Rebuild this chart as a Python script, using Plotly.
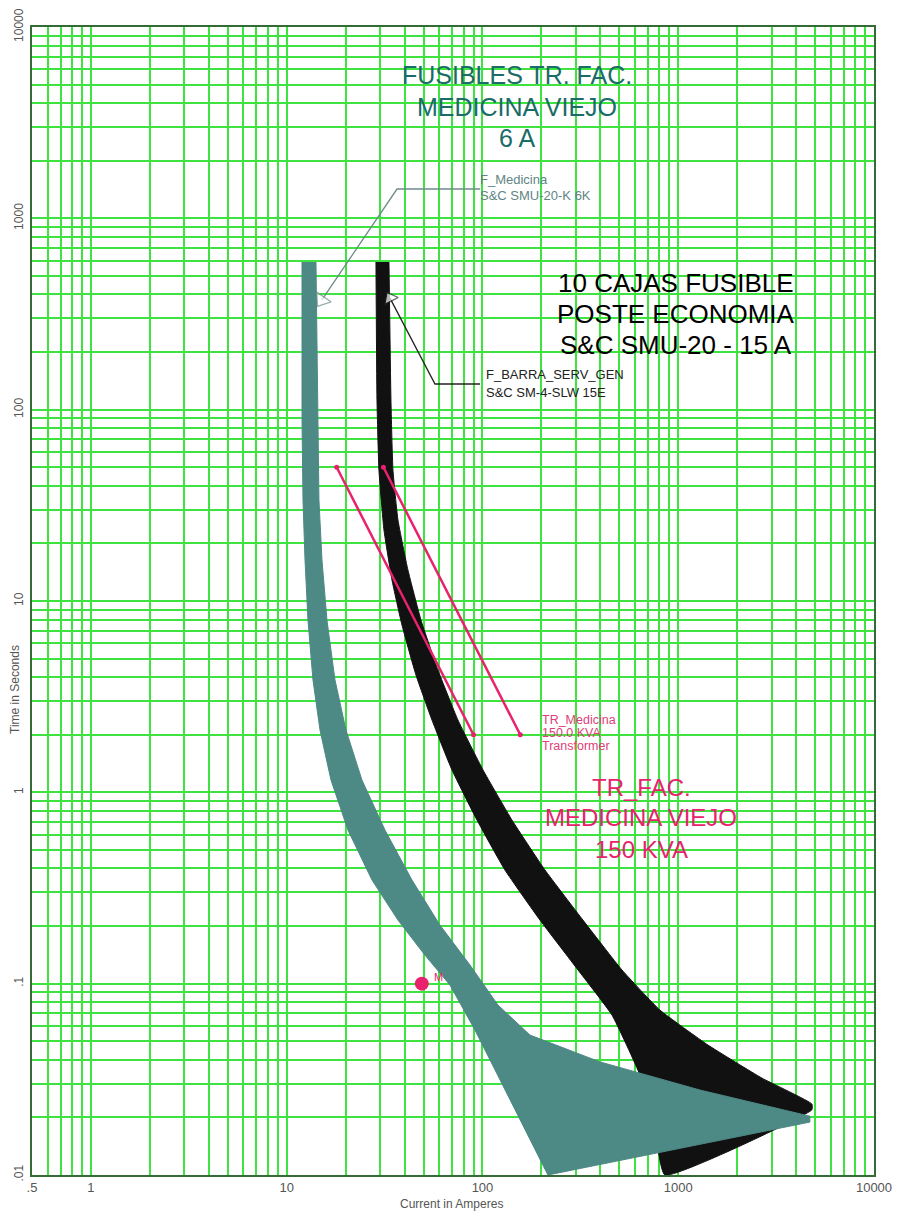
import numpy as np
import plotly.graph_objects as go

# ---------------- data (current in A, time in s) ----------------
# F_Medicina  S&C SMU-20-K 6K  (teal band)
teal_mm_I = [11.97, 11.97, 12.11, 12.40, 12.84, 13.62, 14.79, 16.83, 20.55, 27.26, 37.01, 50.8, 68.21, 91.5, 215.9]
teal_mm_t = [591, 88.3, 33.7, 16.4, 7.96, 3.87, 2.12, 1.16, 0.635, 0.348, 0.215, 0.141, 0.0984, 0.0573, 0.01]
teal_tc_I = [14.11, 14.44, 14.61, 15.14, 16.05, 17.64, 20.07, 24.23, 31.76, 43.63, 60.6, 86.3, 120, 174.7, 398, 1290, 4703]
teal_tc_t = [591, 88.3, 33.7, 16.4, 7.96, 3.87, 2.12, 1.16, 0.635, 0.348, 0.2025, 0.1252, 0.0773, 0.0539, 0.0390, 0.0278, 0.0203]
teal_tip_I = [4703]
teal_tip_t = [0.0189]

# F_BARRA_SERV_GEN  S&C SM-4-SLW 15E  (black band)
black_mm_I = [28.57, 28.91, 29.59, 31.39, 34.48, 38.79, 45.74, 55.19, 69.82, 93.70, 130.2, 196.6, 307.4, 458.5, 637.2, 760.1, 855]
black_mm_t = [591, 112.3, 48.4, 23.5, 12.9, 7.49, 4.10, 2.39, 1.31, 0.717, 0.393, 0.215, 0.118, 0.0686, 0.0333, 0.0172, 0.01]
black_tc_I = [33.29, 34.08, 34.89, 37.01, 41.62, 48.5, 59.22, 74.9, 100.6, 141.4, 208.4, 326, 515.6, 806, 1418, 2675, 4815]
black_tc_t = [591, 112.3, 48.4, 26.5, 14.5, 7.96, 4.36, 2.39, 1.31, 0.717, 0.393, 0.215, 0.118, 0.0728, 0.0478, 0.0321, 0.0235]
black_tip_I = [4815]
black_tip_t = [0.0219]

# TR_Medicina 150.0 KVA transformer damage curves
tr1_I = [18.0, 90.0]
tr2_I = [31.2, 156.0]
tr_t = [50.0, 2.0]

# Inrush point
inrush_I = [49.0]
inrush_t = [0.1]

# leader lines
lead_teal_I = [97.1, 36.6, 15.1]
lead_teal_t = [1423, 1423, 374]
lead_black_I = [97.1, 57.2, 33.7]
lead_black_t = [136.2, 136.2, 383]

# axis ticks
x_major = [0.5, 1, 10, 100, 1000, 10000]
x_major_text = [".5", "1", "10", "100", "1000", "10000"]
y_major = [0.01, 0.1, 1, 10, 100, 1000, 10000]
y_major_text = [".01", ".1", "1", "10", "100", "1000", "10000"]

# ---------------- colours ----------------
TEAL = "#4d8985"
TEAL_TXT = "#1b6b68"
PINK = "#e8226c"
GRID = "#3fe33f"

def grid_vals(lo_exp, hi_exp):
    vals = []
    for e in range(lo_exp, hi_exp + 1):
        for m in range(1, 10):
            vals.append(m * 10.0 ** e)
    return vals

xv = [v for v in grid_vals(-1, 4) if 0.5 <= v <= 10000 + 1e-9]
yv = [v for v in grid_vals(-2, 4) if 0.01 - 1e-12 <= v <= 10000 + 1e-9]

def lab(vals, majors, texts):
    out = []
    for v in vals:
        txt = ""
        for m, t in zip(majors, texts):
            if abs(v - m) / m < 1e-6:
                txt = t
        out.append(txt)
    return out

fig = go.Figure()

# black band
bx = black_mm_I + black_tip_I + black_tc_I[::-1]
by = black_mm_t + black_tip_t + black_tc_t[::-1]
fig.add_trace(go.Scatter(x=bx, y=by, fill="toself", fillcolor="#111111",
                         mode="lines", line=dict(color="#111111", width=1, shape="spline", smoothing=0.4),
                         hoverinfo="skip", showlegend=False))
# teal band
tx = teal_mm_I + teal_tip_I + teal_tc_I[::-1]
ty = teal_mm_t + teal_tip_t + teal_tc_t[::-1]
fig.add_trace(go.Scatter(x=tx, y=ty, fill="toself", fillcolor=TEAL,
                         mode="lines", line=dict(color=TEAL, width=1),
                         hoverinfo="skip", showlegend=False))

# transformer damage lines
for xs in (tr1_I, tr2_I):
    fig.add_trace(go.Scatter(x=xs, y=tr_t, mode="lines+markers",
                             line=dict(color=PINK, width=2.5),
                             marker=dict(color=PINK, size=5),
                             showlegend=False))

# inrush point
fig.add_trace(go.Scatter(x=inrush_I, y=inrush_t, mode="markers",
                         marker=dict(color=PINK, size=14), showlegend=False))

# leaders
fig.add_trace(go.Scatter(x=lead_teal_I, y=lead_teal_t, mode="lines+markers",
                         line=dict(color="#6f8c8a", width=1.3),
                         marker=dict(symbol=["circle", "circle", "triangle-up"], size=[0, 0, 15],
                                     angleref="previous", color="white",
                                     line=dict(color="#6f8c8a", width=1.3)),
                         showlegend=False))
fig.add_trace(go.Scatter(x=lead_black_I, y=lead_black_t, mode="lines+markers",
                         line=dict(color="#222222", width=1.3),
                         marker=dict(symbol=["circle", "circle", "triangle-up"], size=[0, 0, 13],
                                     angleref="previous", color="white",
                                     line=dict(color="#222222", width=1.3)),
                         showlegend=False))

W, H = 899, 1217
L, R, T, B = 32, 25, 27, 42
PW, PH = W - L - R, H - T - B

def px(xp):
    return (xp - L) / PW

def py(yp):
    return (H - B - yp) / PH

ann = []
def add_text(text, xp, yp, size, color, xanchor="center"):
    ann.append(dict(text=text, x=px(xp), y=py(yp), xref="paper", yref="paper",
                    xanchor=xanchor, yanchor="middle", showarrow=False,
                    font=dict(family="Liberation Sans, Arial", size=size, color=color)))

# big labels
for t_, yy in (("FUSIBLES TR. FAC.", 75), ("MEDICINA VIEJO", 107), ("6 A", 138)):
    add_text(t_, 517, yy, 25, TEAL_TXT)
for t_, yy in (("10 CAJAS FUSIBLE", 283), ("POSTE ECONOMIA", 314), ("S&C SMU-20 - 15 A", 345)):
    add_text(t_, 676, yy, 26, "#000000")
for t_, yy in (("TR_FAC.", 787), ("MEDICINA VIEJO", 818), ("150 KVA", 850)):
    add_text(t_, 641, yy, 24, PINK)

# small device labels
add_text("F_Medicina", 478, 180, 13, "#5f8583", "left")
add_text("S&C SMU-20-K 6K", 478, 196, 13, "#5f8583", "left")
add_text("F_BARRA_SERV_GEN", 484, 375, 13, "#222222", "left")
add_text("S&C SM-4-SLW 15E", 484, 392, 13, "#222222", "left")
add_text("TR_Medicina", 540, 720, 12.5, "#e0407a", "left")
add_text("150.0 KVA", 540, 733, 12.5, "#e0407a", "left")
add_text("Transformer", 540, 746, 12.5, "#e0407a", "left")
add_text("M", 432, 977, 11, PINK, "left")

# axis titles
add_text("Current in Amperes", 451, 1204, 12, "#555555")
ann.append(dict(text="Time in Seconds", x=px(15), y=py(690), xref="paper", yref="paper",
                xanchor="center", yanchor="middle", showarrow=False, textangle=-90,
                font=dict(family="Liberation Sans, Arial", size=12, color="#555555")))

fig.update_layout(
    width=W, height=H,
    margin=dict(l=L, r=R, t=T, b=B),
    paper_bgcolor="white", plot_bgcolor="white",
    annotations=ann,
    showlegend=False,
)
fig.update_xaxes(type="log", range=[np.log10(0.4999), np.log10(10000.5)],
                 tickvals=xv, ticktext=lab(xv, x_major, x_major_text),
                 showgrid=True, gridcolor=GRID, gridwidth=1.6, zeroline=False,
                 showline=True, linecolor="#356b35", linewidth=1.5, mirror=True,
                 ticks="", tickfont=dict(family="Liberation Sans, Arial", size=13, color="#555555"),
                 automargin=False)
fig.update_yaxes(type="log", range=[np.log10(0.009999), np.log10(10000.5)],
                 tickvals=yv, ticktext=lab(yv, y_major, y_major_text),
                 showgrid=True, gridcolor=GRID, gridwidth=1.6, zeroline=False,
                 showline=True, linecolor="#356b35", linewidth=1.5, mirror=True,
                 ticks="", tickangle=-90, ticklabelstandoff=2,
                 tickfont=dict(family="Liberation Sans, Arial", size=12, color="#555555"),
                 automargin=False)

fig.write_html("out.html", config={"displayModeBar": False},
               post_script="document.body.style.margin='0';document.body.style.padding='0';")
